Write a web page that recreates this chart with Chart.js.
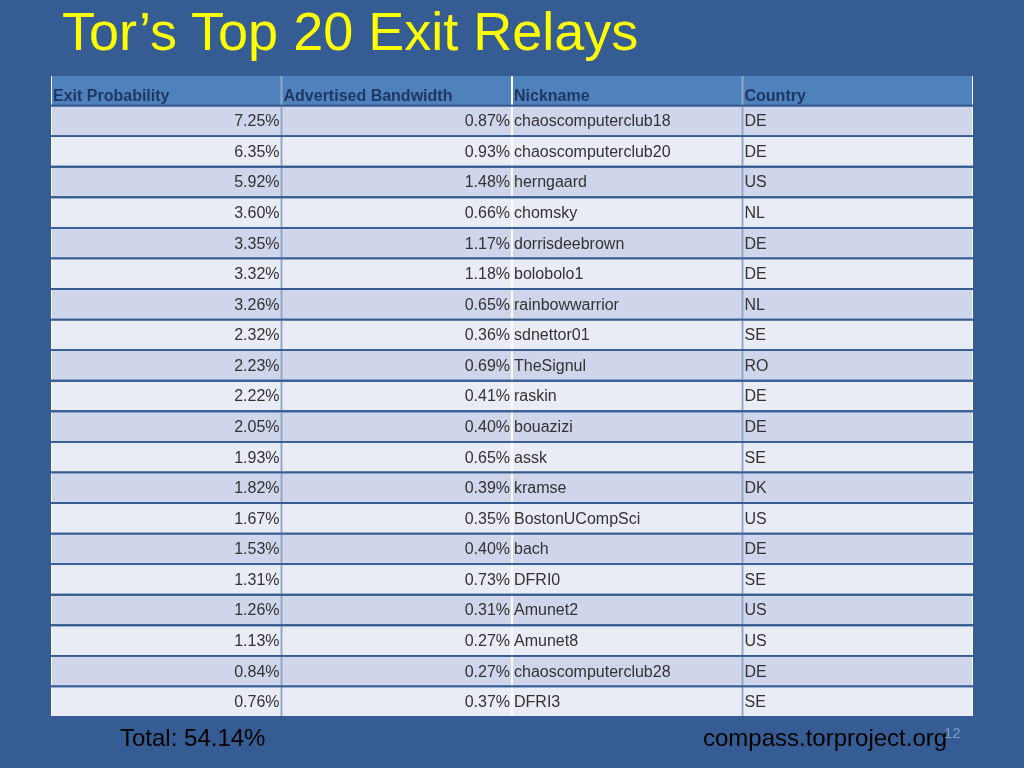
<!DOCTYPE html>
<html><head><meta charset="utf-8">
<script src="https://cdn.jsdelivr.net/npm/chart.js@4/dist/chart.umd.min.js"></script>
<style>html,body{margin:0;padding:0;background:#355d93;}
#t{position:absolute;left:62px;top:0px;font:54px "Liberation Sans",Arial,sans-serif;color:#ffff00;white-space:nowrap}
.f{position:absolute;font:24px "Liberation Sans",Arial,sans-serif;color:#000;top:724px}
canvas{position:absolute;left:0;top:0}</style></head><body>
<canvas id="c" width="1024" height="768"></canvas>
<div id="t">Tor’s Top 20 Exit Relays</div>
<div class="f" style="left:120px">Total: 54.14%</div>
<div class="f" style="left:703px">compass.torproject.org</div>
<div style="position:absolute;left:944px;top:724px;font:15px 'Liberation Sans',Arial;color:#7e9cc4">12</div>
<script>
const headers=["Exit Probability","Advertised Bandwidth","Nickname","Country"];
const exitProb=["7.25%","6.35%","5.92%","3.60%","3.35%","3.32%","3.26%","2.32%","2.23%","2.22%","2.05%","1.93%","1.82%","1.67%","1.53%","1.31%","1.26%","1.13%","0.84%","0.76%"];
const bandwidth=["0.87%","0.93%","1.48%","0.66%","1.17%","1.18%","0.65%","0.36%","0.69%","0.41%","0.40%","0.65%","0.39%","0.35%","0.40%","0.73%","0.31%","0.27%","0.27%","0.37%"];
const nicknames=["chaoscomputerclub18","chaoscomputerclub20","herngaard","chomsky","dorrisdeebrown","bolobolo1","rainbowwarrior","sdnettor01","TheSignul","raskin","bouazizi","assk","kramse","BostonUCompSci","bach","DFRI0","Amunet2","Amunet8","chaoscomputerclub28","DFRI3"];
const countries=["DE","DE","US","NL","DE","DE","NL","SE","RO","DE","DE","SE","DK","US","DE","SE","US","US","DE","SE"];
const cols=[exitProb,bandwidth,nicknames,countries];
const rows=["h"].concat(exitProb.map((_,i)=>"r"+i));
const bg=c=>c.dataIndex===0?"#4f81bd":(c.dataIndex%2===1?"#cfd5ea":"#e9ebf5");
const datasets=cols.map((col,ci)=>({label:headers[ci],data:rows.map(()=>1),backgroundColor:bg,borderColor:"#ffffff",borderWidth:{left:1,right:1,top:0,bottom:0},borderSkipped:false,barPercentage:1,categoryPercentage:0.94}));
const textPlugin={id:"txt",afterDatasetsDraw(chart){
 const ctx=chart.ctx;ctx.save();ctx.textBaseline="middle";
 chart.data.datasets.forEach((ds,ci)=>{
  chart.getDatasetMeta(ci).data.forEach((el,ri)=>{
   const x0=Math.min(el.x,el.base),x1=Math.max(el.x,el.base);
   let txt,align;
   if(ri===0){txt=headers[ci];ctx.font="bold 16px 'Liberation Sans',Arial";ctx.fillStyle="#1f3763";align="left";}
   else{txt=cols[ci][ri-1];ctx.font="16px 'Liberation Sans',Arial";ctx.fillStyle="#333333";align=ci<2?"right":"left";}
   ctx.textAlign=align;
   const yy=el.y+(ri===0?6:1);
   ctx.fillText(txt,align==="right"?x1-2:x0+2,yy);
  });
 });ctx.restore();}};
new Chart(document.getElementById("c"),{type:"bar",data:{labels:rows,datasets},
 options:{indexAxis:"y",responsive:false,animation:false,
  layout:{padding:{left:51,right:51,top:75,bottom:51}},
  plugins:{legend:{display:false},tooltip:{enabled:false}},
  scales:{x:{stacked:true,display:false,min:0,max:4},y:{stacked:true,display:false}}},
 plugins:[textPlugin]});
</script></body></html>
